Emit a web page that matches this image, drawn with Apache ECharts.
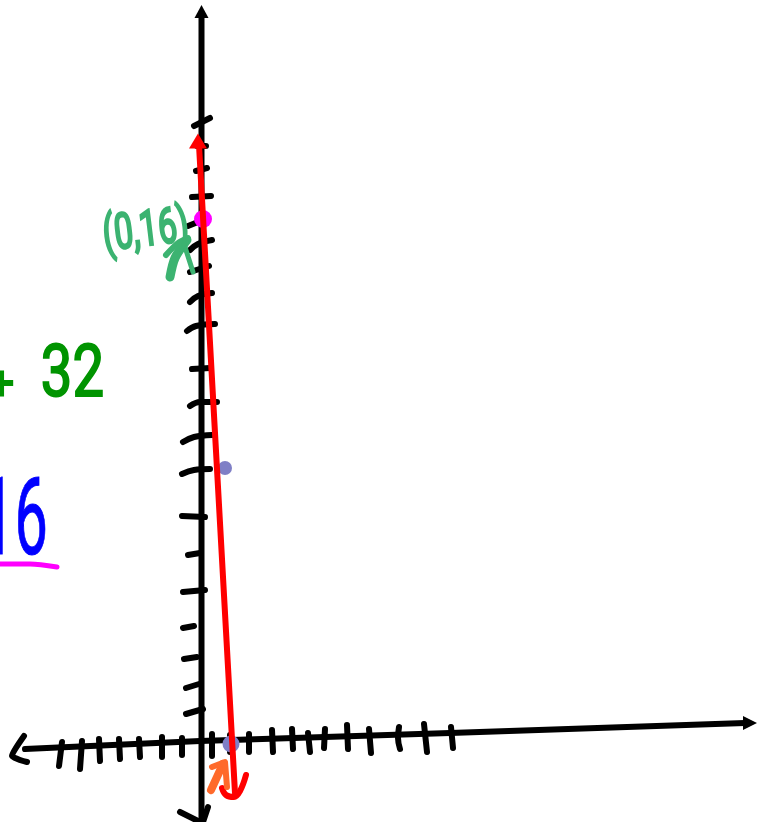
<!DOCTYPE html>
<html>
<head>
<meta charset="utf-8">
<style>html,body{margin:0;padding:0;background:#fff}#c{width:762px;height:822px}</style>
<script src="https://cdn.jsdelivr.net/npm/echarts@6/dist/echarts.min.js"></script>
</head>
<body>
<div id="c"></div>
<script>
const verticalAxis = [[201.5, 15], [201.5, 822]];
const horizontalAxis = [[25, 749], [200, 741], [450, 733], [745, 723]];
const bottomArrowLeft = [[180, 812], [200, 822]];
const bottomArrowRight = [[208, 807], [203, 822]];
const leftArrow = [[24, 736], [12, 756], [27, 762]];
const yTicks = [
  [[194,126],[210,118]],
  [[197,146],[206,146]],
  [[196,171],[207,168]],
  [[192,197],[211,196]],
  [[188,226],[203,220]],
  [[190,250],[198,244],[212,240]],
  [[190,272],[209,266]],
  [[190,302],[198,296],[212,293]],
  [[187,331],[196,326],[215,324]],
  [[192,369],[210,368]],
  [[190,406],[200,402],[217,402]],
  [[183,442],[194,437],[212,435]],
  [[182,474],[194,470],[210,469]],
  [[182,516],[205,517]],
  [[188,555],[200,553]],
  [[183,592],[205,590]],
  [[183,628],[194,626]],
  [[184,659],[197,657]],
  [[186,688],[199,684]],
  [[186,714],[203,709]]
];
const xTicks = [
  [[62,742],[59,766]], [[82,741],[80,769]], [[99,739],[100,761]],
  [[119,739],[120,759]], [[139,739],[140,757]], [[162,737],[162,757]],
  [[182,738],[182,755]], [[212,734],[212,756]], [[230,735],[230,752]],
  [[249,734],[249,752]], [[272,730],[273,752]], [[292,729],[293,749]],
  [[308,733],[310,752]], [[325,729],[324,748]], [[347,725],[348,749]],
  [[369,729],[371,753]], [[399,727],[398,738],[400,749]], [[424,724],[427,752]],
  [[451,727],[453,748]]
];
const redLine = [[199, 145], [235, 793]];
const redHook = [[222, 788], [226, 795], [234, 797], [240, 791], [246, 775]];
const orangeStem = [[211, 790], [223, 764]];
const orangeBack = [[212, 767], [225, 762], [227, 787]];
const greenMarkA = [[166, 255], [178, 243], [188, 238]];
const greenMarkB = [[170, 277], [175, 258], [187, 240]];
const greenMarkC = [[185, 247], [193, 272]];
const underline = [[0, 564], [30, 564], [57, 567]];
const pinkPoint = [[203, 219]];
const purplePointSmall = [[225, 468]];
const purplePointLarge = [[231, 744]];
const edgeSpeck = [[562, 825]];
const orangeSpeck = [[160, 823]];
const blackHeads = [[201.5, 11.5, 0, 14, 13], [750, 723, -90, 14, 14]];
const redHeads = [[198, 141, 0, 18, 15]];
const captions = ['(0,16)', '+', '32', '16'];

const BLACK = '#000000', RED = '#ff0000', MINT = '#3cb371', ORANGE = '#ff6a2b';
const FOREST = '#009400', BLUE = '#0000ff', PINK = '#ff00ff', PURPLE = '#7f7fc6';

function stroke(points, color, width, z, smooth) {
  return {
    type: 'line', data: points, symbol: 'none', smooth: smooth === undefined ? 0.4 : smooth,
    z: z, silent: true, animation: false,
    lineStyle: { color: color, width: width, cap: 'round', join: 'round' }
  };
}
function dots(points, color, size, z) {
  return { type: 'scatter', data: points, symbolSize: size, z: z, silent: true, animation: false,
    itemStyle: { color: color, opacity: 1 } };
}
function heads(rows, color, z) {
  return {
    type: 'scatter', z: z, silent: true, animation: false, symbol: 'triangle',
    data: rows.map(r => ({ value: [r[0], r[1]], symbolRotate: r[2], symbolSize: [r[3], r[4]] })),
    itemStyle: { color: color, opacity: 1 }
  };
}

const series = [
  stroke(verticalAxis, BLACK, 6, 3, 0),
  stroke(horizontalAxis, BLACK, 6, 3, 0),
  stroke(bottomArrowLeft, BLACK, 6, 3, 0),
  stroke(bottomArrowRight, BLACK, 6, 3, 0),
  stroke(leftArrow, BLACK, 6, 3, 0.2),
  heads(blackHeads, BLACK, 3),
  dots(purplePointSmall, PURPLE, 14, 5),
  dots(purplePointLarge, PURPLE, 17, 5),
  dots(pinkPoint, PINK, 18, 5),
  stroke(redLine, RED, 6, 6, 0),
  stroke(redHook, RED, 6, 6, 0.4),
  heads(redHeads, RED, 6),
  stroke(orangeStem, ORANGE, 8, 6, 0),
  stroke(orangeBack, ORANGE, 6, 6, 0),
  stroke(greenMarkA, MINT, 6, 6, 0.3),
  stroke(greenMarkB, MINT, 9, 6, 0.3),
  stroke(greenMarkC, MINT, 5, 6, 0),
  stroke(underline, PINK, 5, 6, 0.3),
  dots(edgeSpeck, MINT, 14, 6),
  dots(orangeSpeck, ORANGE, 6, 6)
];
yTicks.concat(xTicks).forEach(t => series.push(stroke(t, BLACK, 6, 4)));

function caption(text, x, y, size, color, line, scaleX, scaleY, rotation, align) {
  return { type: 'text', x: x, y: y, rotation: rotation, scaleX: scaleX, scaleY: scaleY, z: 7,
    style: { text: text, font: size + 'px Roboto', fill: color, stroke: color, lineWidth: line,
      textAlign: align, textVerticalAlign: 'middle' } };
}

const chart = echarts.init(document.getElementById('c'), null, { renderer: 'canvas' });
chart.setOption({
  animation: false,
  backgroundColor: '#ffffff',
  grid: { left: 0, right: 0, top: 0, bottom: 0, containLabel: false },
  xAxis: { type: 'value', min: 0, max: 762, show: false },
  yAxis: { type: 'value', min: 0, max: 822, inverse: true, show: false },
  series: series,
  graphic: [
    caption(captions[0], 146, 233, 38, MINT, 2, 0.88, 1.3, 0.12, 'center'),
    caption(captions[1], 1, 387, 46, FOREST, 2, 1, 1, 0, 'center'),
    caption(captions[2], 104, 378, 72, FOREST, 2, 0.78, 1, 0, 'right'),
    caption(captions[3], 48, 527, 108, BLUE, 1, 0.55, 1, 0, 'right')
  ]
});
</script>
</body>
</html>
